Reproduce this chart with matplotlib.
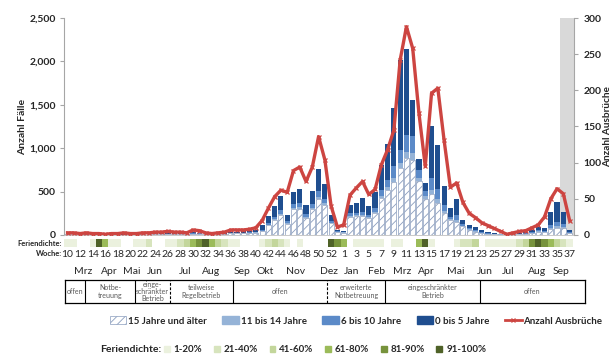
"""
Kita-Ausbrüche: Fälle nach Altersgruppe und Anzahl Ausbrüche pro Meldewoche.
"""

import matplotlib
matplotlib.use("Agg")
import numpy as np
import matplotlib.pyplot as plt
from matplotlib.patches import Patch
from matplotlib.lines import Line2D
from matplotlib.ticker import FuncFormatter

plt.rcParams["font.family"] = ["Lato", "DejaVu Sans"]
plt.rcParams["hatch.linewidth"] = 0.6

FIG_PATH = "out.png"
W, H = 614, 364

# Meldewochen 10/2020 .. 53/2020, 1/2021 .. 37/2021
weeks = list(range(10, 54)) + list(range(1, 38))

cases_15plus = [8, 10, 7, 5, 4, 3, 3, 4, 5, 4, 5, 6, 7, 8, 10, 11, 13, 12, 10, 8,
                15, 14, 8, 6, 7, 11, 18, 20, 21, 22,
                28, 45, 110, 170, 230, 130, 300, 300, 195, 300, 415, 345, 135, 35,
                28, 210, 215, 215, 195, 250, 425, 520, 615, 770, 885, 865, 620, 420,
                470, 370, 250, 170, 155, 100, 60, 40, 25, 15, 8, 5, 3, 6, 10, 12,
                25, 40, 35, 70, 85, 80, 25]
cases_11_14 = [1, 1, 1, 0, 0, 0, 0, 0, 0, 0, 0, 1, 1, 1, 1, 1, 1, 1, 1, 1,
               2, 1, 1, 0, 1, 1, 2, 2, 2, 2,
               3, 5, 8, 12, 15, 8, 15, 18, 12, 15, 25, 20, 8, 2,
               1, 12, 12, 15, 10, 15, 25, 30, 45, 55, 75, 75, 40, 30,
               50, 45, 25, 12, 20, 8, 6, 5, 3, 2, 1, 1, 0, 1, 1, 2,
               3, 5, 4, 15, 20, 15, 3]
cases_6_10 = [2, 3, 1, 1, 1, 0, 0, 1, 1, 1, 1, 1, 1, 2, 2, 2, 3, 3, 2, 2,
              4, 4, 2, 1, 1, 2, 4, 5, 5, 6,
              7, 12, 20, 30, 40, 22, 40, 45, 30, 40, 65, 50, 20, 5,
              4, 30, 32, 40, 28, 45, 70, 85, 130, 155, 195, 195, 90, 60,
              140, 120, 70, 30, 55, 20, 14, 12, 8, 5, 3, 2, 1, 2, 3, 4,
              8, 12, 10, 35, 50, 35, 7]
cases_0_5 = [4, 6, 3, 2, 1, 2, 1, 1, 2, 1, 2, 2, 3, 4, 5, 6, 8, 6, 5, 4,
             9, 9, 4, 3, 3, 6, 11, 13, 14, 15,
             22, 53, 77, 118, 160, 75, 135, 167, 103, 150, 260, 175, 62, 18,
             12, 98, 111, 160, 102, 180, 290, 410, 675, 1040, 990, 425, 120, 90,
             590, 505, 220, 98, 180, 47, 35, 38, 22, 13, 8, 4, 4, 6, 11, 12,
             24, 38, 31, 150, 230, 140, 25]
outbreaks = [3, 3, 2, 3, 2, 2, 1, 2, 2, 3, 2, 2, 3, 3, 4, 4, 5, 4, 4, 3,
             7, 6, 3, 2, 3, 4, 7, 7, 7, 8,
             10, 20, 37, 53, 62, 59, 89, 94, 74, 94, 136, 104, 40, 11,
             14, 55, 65, 74, 56, 63, 97, 118, 145, 242, 288, 258, 168, 95,
             196, 203, 131, 66, 72, 45, 30, 24, 17, 13, 9, 5, 1, 3, 5, 6,
             10, 14, 25, 50, 64, 57, 20]

# Feriendichte-Stufe je Woche (0 = keine Ferien, 1..6 = Klassen unten)
holiday_level = [1, 1, 0, 0, 1, 6, 4, 1, 1, 0, 0, 1, 1, 2, 0, 0, 1, 1, 2, 3,
                 4, 5, 6, 4, 3, 2, 1, 1, 0, 0, 0, 1, 2, 3, 2, 1, 0, 1, 0, 0,
                 0, 0, 6, 5,
                 4, 0, 1, 1, 1, 1, 1, 0, 1, 1, 0, 0, 4, 6, 1, 0, 0, 0, 1, 2,
                 2, 3, 0, 1, 1, 1, 1, 1, 2, 3, 5, 6, 5, 4, 3, 2, 1]
holiday_labels = ["1-20%", "21-40%", "41-60%", "61-80%", "81-90%", "91-100%"]
holiday_colors = ["#EBF1DE", "#D7E4BD", "#C3D69B", "#9BBB59", "#77933C", "#4F6228"]

month_labels = ["Mrz", "Apr", "Mai", "Jun", "Jul", "Aug", "Sep", "Okt", "Nov", "Dez",
                "Jan", "Feb", "Mrz", "Apr", "Mai", "Jun", "Jul", "Aug", "Sep"]
month_pos = [2.5, 6.6, 10.3, 13.9, 18.7, 22.9, 27.8, 31.5, 36.4, 41.7,
             45.3, 49.3, 53.3, 57.1, 61.9, 66.5, 70.2, 74.8, 78.6]

phase_labels = ["offen", "Notbe-\ntreuung", "einge-\nschränkter\nBetrieb",
                "teilweise\nRegelbetrieb", "offen", "erweiterte\nNotbetreuung",
                "eingeschränkter\nBetrieb", "offen"]

C_EDGE = "#8A9DBD"
C_11_14 = "#95B3D7"
C_6_10 = "#5B8AC8"
C_0_5 = "#1F4E8F"
C_LINE = "#CD4541"
C_TEXT = "#262626"


def px(x, y):
    return x / W, 1 - y / H


def main() -> None:
    x = np.arange(len(weeks))
    xlim = (-0.5, 80.7)

    fig = plt.figure(figsize=(W / 100, H / 100), dpi=100)
    ax = fig.add_axes([64.4 / W, 1 - 235 / H, (574 - 64.4) / W, 217 / H])
    ax.set_xlim(*xlim)
    ax.set_ylim(0, 2500)
    ax.patch.set_alpha(0)

    # incomplete reporting weeks
    ax.axvspan(78.5, xlim[1], color="#D9D9D9", lw=0, zorder=0)

    width = 0.82
    c15 = np.array(cases_15plus)
    c11 = np.array(cases_11_14)
    c6 = np.array(cases_6_10)
    c0 = np.array(cases_0_5)
    ax.bar(x, c15, width, color="white", edgecolor=C_EDGE, hatch="////", lw=0.5, zorder=2)
    ax.bar(x, c11, width, bottom=c15, color=C_11_14, lw=0, zorder=2)
    ax.bar(x, c6, width, bottom=c15 + c11, color=C_6_10, lw=0, zorder=2)
    ax.bar(x, c0, width, bottom=c15 + c11 + c6, color=C_0_5, lw=0, zorder=2)

    ax.set_yticks(range(0, 2501, 500))
    ax.yaxis.set_major_formatter(FuncFormatter(lambda v, p: f"{int(v):,}"))
    ax.set_xticks([])
    for s in ["top", "right"]:
        ax.spines[s].set_visible(False)
    ax.spines["left"].set_color("#A6A6A6")
    ax.spines["bottom"].set_color("#BFBFBF")
    ax.spines["left"].set_linewidth(0.8)
    ax.spines["bottom"].set_linewidth(0.6)
    ax.tick_params(axis="y", length=3, color="#A6A6A6", pad=3, labelsize=7.5, labelcolor=C_TEXT)
    for t in ax.get_yticklabels():
        t.set_fontweight("bold")
    ax.set_ylabel("Anzahl Fälle", fontsize=7.5, fontweight="bold", color=C_TEXT)
    ax.yaxis.set_label_coords(-0.073, 0.5)

    ax2 = ax.twinx()
    ax2.set_ylim(0, 300)
    ax2.plot(x, outbreaks, color=C_LINE, lw=2.4, marker="x", ms=3.5, mew=0.9, zorder=5)
    ax2.set_yticks(range(0, 301, 50))
    for s in ["top", "left", "bottom"]:
        ax2.spines[s].set_visible(False)
    ax2.spines["right"].set_color("#A6A6A6")
    ax2.spines["right"].set_linewidth(0.8)
    ax2.tick_params(axis="y", length=3, color="#A6A6A6", pad=4, labelsize=7.5, labelcolor=C_TEXT)
    for t in ax2.get_yticklabels():
        t.set_fontweight("bold")
    ax2.set_ylabel("Anzahl Ausbrüche", fontsize=7.2, fontweight="bold", color=C_TEXT)
    ax2.yaxis.set_label_coords(1.057, 0.5)

    # Feriendichte strip with week labels underneath
    axs = fig.add_axes([64.4 / W, 1 - 247 / H, (574 - 64.4) / W, 8 / H])
    axs.set_xlim(*xlim)
    axs.set_ylim(0, 1)
    strip_colors = ["white" if lv == 0 else holiday_colors[lv - 1] for lv in holiday_level]
    axs.bar(x, 1, 1.0, color=strip_colors, lw=0)
    for s in axs.spines.values():
        s.set_visible(False)
    axs.set_yticks([])
    axs.set_xticks(x[::2])
    axs.set_xticklabels([str(w) for w in weeks[::2]], fontsize=7.5, color=C_TEXT)
    axs.tick_params(axis="x", length=0, pad=2)

    fig.text(*px(62, 243), "Feriendichte:", ha="right", va="center",
             fontsize=5.5, fontweight="bold", color=C_TEXT)
    fig.text(*px(62, 253.5), "Woche:", ha="right", va="center",
             fontsize=5.5, fontweight="bold", color=C_TEXT)

    # month row
    for lab, pos in zip(month_labels, month_pos):
        xf = ax.transData.transform((pos, 0))[0] / fig.dpi / fig.get_figwidth()
        fig.text(xf, 1 - 271 / H, lab, ha="center", va="center", fontsize=7.5, color=C_TEXT)

    # Kita-Betrieb phases
    axt = fig.add_axes([65 / W, 1 - 303 / H, 520 / W, 23 / H])
    axt.set_xlim(65, 585)
    axt.set_ylim(303, 280)
    axt.set_xticks([])
    axt.set_yticks([])
    for s in axt.spines.values():
        s.set_color("black")
        s.set_linewidth(0.9)
    bounds = [65, 85, 135, 170, 233, 327, 385, 480, 585]
    dashed = {170, 327}
    for b in bounds[1:-1]:
        axt.axvline(b, color="black", lw=0.8, ls=(0, (2.5, 1.5)) if b in dashed else "-")
    for lab, a, b in zip(phase_labels, bounds[:-1], bounds[1:]):
        axt.text((a + b) / 2, 291.5, lab, ha="center", va="center", fontsize=5,
                 color="#595959", linespacing=1.05)

    # legend for bars and line
    handles = [Patch(facecolor="white", edgecolor=C_EDGE, hatch="////", lw=0.5),
               Patch(color=C_11_14), Patch(color=C_6_10), Patch(color=C_0_5),
               Line2D([], [], color=C_LINE, lw=2, marker="x", ms=3, mew=0.9)]
    labels = ["15 Jahre und älter", "11 bis 14 Jahre", "6 bis 10 Jahre",
              "0 bis 5 Jahre", "Anzahl Ausbrüche"]
    fig.legend(handles, labels, loc="center", bbox_to_anchor=px(356, 321), ncol=5,
               frameon=False, prop={"size": 7, "weight": "bold"}, labelcolor=C_TEXT,
               handlelength=1.7, handleheight=0.8, handletextpad=0.2,
               columnspacing=1.6, borderaxespad=0)

    # legend for holiday density
    fig.text(*px(100, 350), "Feriendichte:", ha="left", va="center",
             fontsize=7.5, fontweight="bold", color=C_TEXT)
    fhandles = [Patch(color=c) for c in holiday_colors]
    fig.legend(fhandles, holiday_labels, loc="center left", bbox_to_anchor=px(160, 350),
               ncol=6, frameon=False, prop={"size": 7, "weight": "bold"}, labelcolor=C_TEXT,
               handlelength=0.6, handleheight=0.6, handletextpad=0.4,
               columnspacing=1.2, borderaxespad=0)

    fig.savefig(FIG_PATH, dpi=100)
    plt.close(fig)


if __name__ == "__main__":
    main()
